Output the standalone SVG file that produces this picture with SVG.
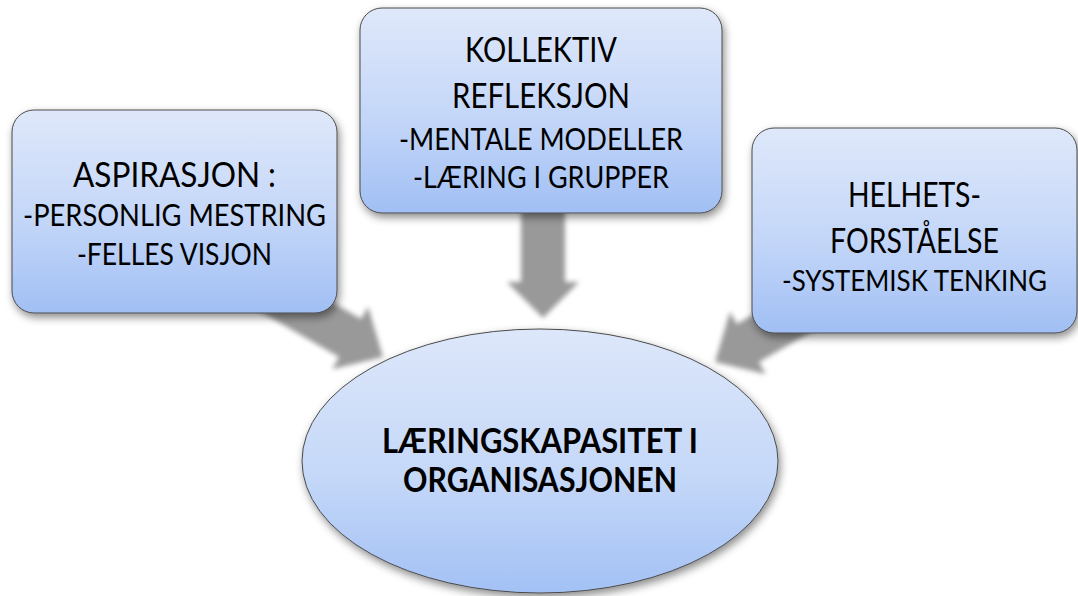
<svg xmlns="http://www.w3.org/2000/svg" width="1078" height="596" viewBox="0 0 1078 596">
  <defs>
    <linearGradient id="boxFill" x1="0" y1="0" x2="0" y2="1">
      <stop offset="0" stop-color="#dfe8fa"/>
      <stop offset="0.55" stop-color="#c3d6f8"/>
      <stop offset="1" stop-color="#a1bff4"/>
    </linearGradient>
    <linearGradient id="ovalFill" x1="0" y1="0" x2="0" y2="1">
      <stop offset="0" stop-color="#dde7fa"/>
      <stop offset="0.55" stop-color="#c5d8f8"/>
      <stop offset="1" stop-color="#a3c1f5"/>
    </linearGradient>
    <filter id="shadow" x="-10%" y="-10%" width="120%" height="125%">
      <feDropShadow dx="2" dy="4" stdDeviation="4" flood-color="#000" flood-opacity="0.45"/>
    </filter>
    <filter id="soft" x="-20%" y="-20%" width="140%" height="140%">
      <feGaussianBlur stdDeviation="2.5"/>
    </filter>
    <style>
      .box { fill: url(#boxFill); stroke: #4a4a4a; stroke-width: 1; filter: url(#shadow); }
      .oval { fill: url(#ovalFill); stroke: #4a4a4a; stroke-width: 1; filter: url(#shadow); }
      .arrow { fill: #999; filter: url(#soft); }
      text { font-family: Lato, "Liberation Sans", sans-serif; fill: #000; text-anchor: middle; }
      .head { font-size: 34px; }
      .sub { font-size: 31px; }
      .sub.narrow { font-size: 29px; }
      .main { font-size: 34px; font-weight: bold; }
    </style>
  </defs>

  <rect width="1078" height="596" fill="#fff"/>

  <!-- block arrows pointing into the oval -->
  <g id="connectors">
    <polygon class="arrow" transform="translate(383,357) rotate(30)" points="0,0 -38,-36 -38,-22 -150,-22 -150,22 -38,22 -38,36"/>
    <polygon class="arrow" transform="translate(543,318) rotate(90)" points="0,0 -36,-36 -36,-22 -112,-22 -112,22 -36,22 -36,36"/>
    <polygon class="arrow" transform="translate(715,362) rotate(150)" points="0,0 -38,-36 -38,-22 -150,-22 -150,22 -38,22 -38,36"/>
  </g>

  <g id="aspirasjon">
    <rect class="box" x="12" y="110" width="325" height="203" rx="22"/>
    <text class="head" x="174.5" y="187" textLength="203" lengthAdjust="spacingAndGlyphs">ASPIRASJON :</text>
    <text class="sub" x="174.5" y="226" textLength="303" lengthAdjust="spacingAndGlyphs">-PERSONLIG MESTRING</text>
    <text class="sub" x="174.5" y="265" textLength="195" lengthAdjust="spacingAndGlyphs">-FELLES VISJON</text>
  </g>

  <g id="kollektiv-refleksjon">
    <rect class="box" x="360" y="8" width="362" height="205" rx="22"/>
    <text class="head" x="541" y="62" textLength="152" lengthAdjust="spacingAndGlyphs">KOLLEKTIV</text>
    <text class="head" x="541" y="108" textLength="178" lengthAdjust="spacingAndGlyphs">REFLEKSJON</text>
    <text class="sub" x="541" y="150" textLength="284" lengthAdjust="spacingAndGlyphs">-MENTALE MODELLER</text>
    <text class="sub" x="541" y="188" textLength="256" lengthAdjust="spacingAndGlyphs">-LÆRING I GRUPPER</text>
  </g>

  <g id="helhetsforstaaelse">
    <rect class="box" x="752" y="128" width="325" height="205" rx="22"/>
    <text class="head" x="914.5" y="207" textLength="133" lengthAdjust="spacingAndGlyphs">HELHETS-</text>
    <text class="head" x="914.5" y="253" textLength="169" lengthAdjust="spacingAndGlyphs">FORSTÅELSE</text>
    <text class="sub narrow" x="914.5" y="291" textLength="265" lengthAdjust="spacingAndGlyphs">-SYSTEMISK TENKING</text>
  </g>

  <g id="laeringskapasitet">
    <ellipse class="oval" cx="540" cy="461" rx="238" ry="132"/>
    <text class="main" x="540" y="453" textLength="316" lengthAdjust="spacingAndGlyphs">LÆRINGSKAPASITET I</text>
    <text class="main" x="540" y="492" textLength="274" lengthAdjust="spacingAndGlyphs">ORGANISASJONEN</text>
  </g>
</svg>
